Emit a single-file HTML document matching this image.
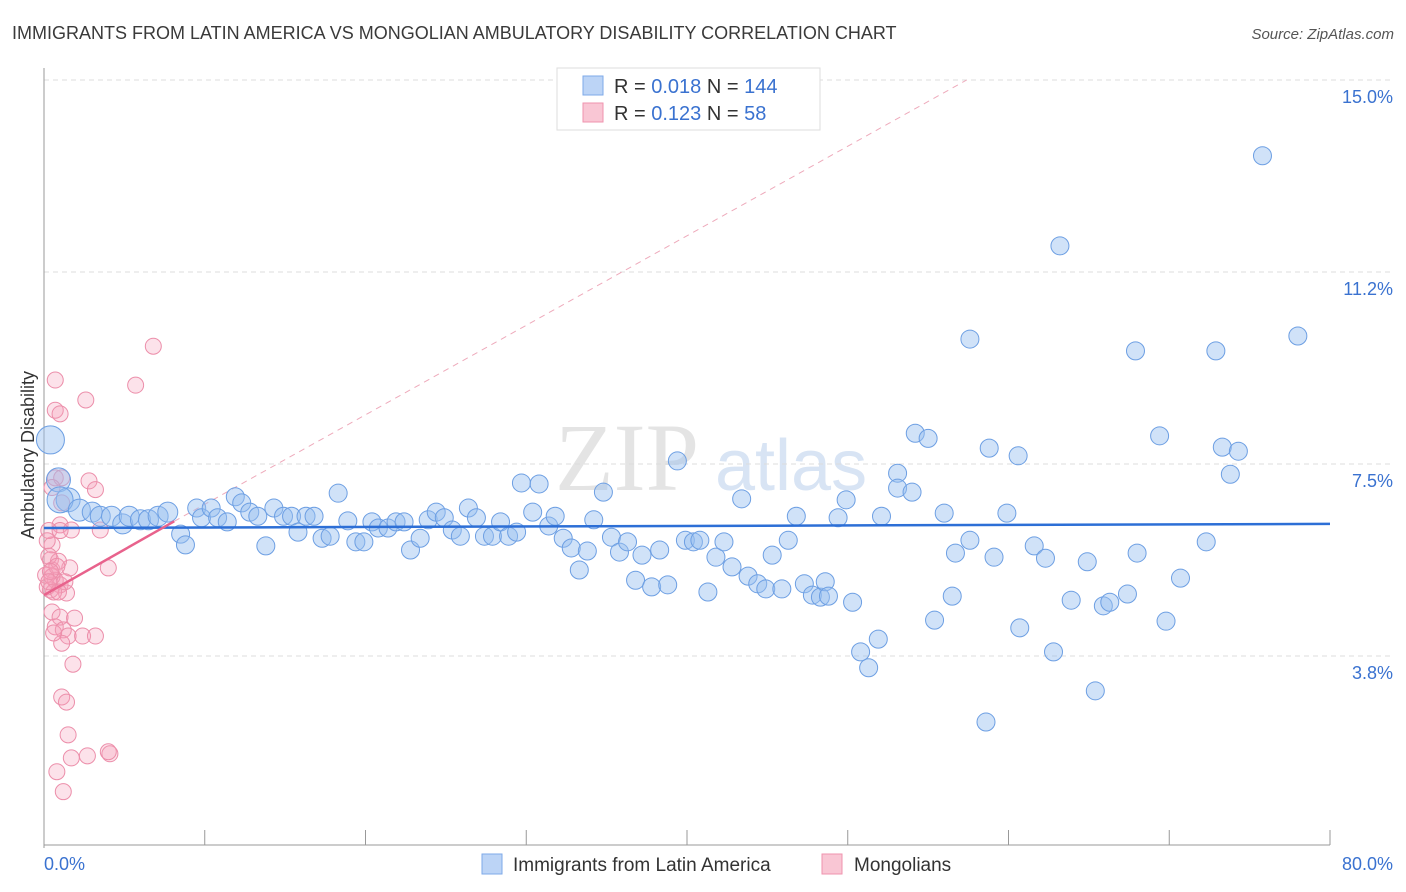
<!DOCTYPE html>
<html><head><meta charset="utf-8">
<style>
body{margin:0;background:#fff;font-family:"Liberation Sans",sans-serif;}
svg{display:block}
</style></head>
<body>
<svg id="chart" width="1406" height="892" xmlns="http://www.w3.org/2000/svg">
<text x="12" y="39" font-size="18" fill="#3a3a3a">IMMIGRANTS FROM LATIN AMERICA VS MONGOLIAN AMBULATORY DISABILITY CORRELATION CHART</text>
<text x="1394" y="39" font-size="15" fill="#555" font-style="italic" text-anchor="end">Source: ZipAtlas.com</text>
<text x="555" y="490" font-size="96" fill="#e4e4e4" font-family="Liberation Serif">ZIP</text>
<text x="715" y="490" font-size="72" fill="#d8e4f4">atlas</text>
<g id="grid"></g>
<g id="axes"></g>
<g id="marks"></g>
<text transform="translate(34,455) rotate(-90)" font-size="18" fill="#333" text-anchor="middle">Ambulatory Disability</text>
<g>
<rect x="557" y="68" width="263" height="62" fill="#fff" stroke="#ddd"/>
<rect x="583" y="76" width="20" height="19" fill="#bcd4f6" stroke="#7eaae8"/>
<rect x="583" y="103" width="20" height="19" fill="#f9c6d4" stroke="#ef93ae"/>
<text x="614" y="93" font-size="20" fill="#333">R = <tspan fill="#3a72d0">0.018</tspan>   N = <tspan fill="#3a72d0">144</tspan></text>
<text x="614" y="120" font-size="20" fill="#333">R =  <tspan fill="#3a72d0">0.123</tspan>   N =   <tspan fill="#3a72d0">58</tspan></text>
</g>
<g>
<rect x="482" y="854" width="20" height="20" fill="#bcd4f6" stroke="#7eaae8"/>
<text x="513" y="871" font-size="19" fill="#333">Immigrants from Latin America</text>
<rect x="822" y="854" width="20" height="20" fill="#f9c6d4" stroke="#ef93ae"/>
<text x="854" y="871" font-size="19" fill="#333">Mongolians</text>
</g>
</svg>
<script>
const yTicks=[3.75,7.5,11.25,15];
const yTickLabels=["3.8%","7.5%","11.2%","15.0%"];
const xTickVals=[0,10,20,30,40,50,60,70,80];
const xEndLabels=["0.0%","80.0%"];
const blueX=[0.4,0.9,1.5,1.0,2.2,3.0,3.5,4.2,4.9,5.3,6.0,6.5,7.1,7.7,8.5,8.8,9.5,9.8,10.4,10.8,11.4,11.9,12.3,12.8,13.3,13.8,14.3,14.9,15.4,15.8,16.3,16.8,17.3,17.8,18.3,18.9,19.4,19.9,20.4,20.8,21.4,21.9,22.4,22.8,23.4,23.9,24.4,24.9,25.4,25.9,26.4,26.9,27.4,27.9,28.4,28.9,29.4,29.7,30.4,30.8,31.4,31.8,32.3,32.8,33.3,33.8,34.2,34.8,35.3,35.8,36.3,36.8,37.2,37.8,38.3,38.8,39.4,39.9,40.4,40.8,41.3,41.8,42.3,42.8,43.4,43.8,44.4,44.9,45.3,45.9,46.3,46.8,47.3,47.8,48.3,48.6,48.8,49.4,49.9,50.3,50.8,51.3,51.9,52.1,53.1,53.1,54.0,54.2,55.0,55.4,56.0,56.5,56.7,57.6,57.6,58.6,58.8,59.1,59.9,60.6,60.7,61.6,62.3,62.8,63.2,63.9,64.9,65.4,65.9,66.3,67.4,67.9,68.0,69.4,69.8,70.7,72.3,72.9,73.3,73.8,74.3,75.8,78.0];
const blueY=[7.97,7.19,6.8,6.8,6.6,6.56,6.48,6.48,6.33,6.48,6.41,6.41,6.48,6.56,6.13,5.92,6.64,6.45,6.64,6.45,6.37,6.86,6.74,6.56,6.48,5.9,6.64,6.48,6.48,6.17,6.48,6.48,6.05,6.09,6.93,6.39,5.98,5.98,6.37,6.25,6.25,6.37,6.37,5.82,6.05,6.41,6.56,6.45,6.21,6.09,6.64,6.45,6.09,6.09,6.37,6.09,6.17,7.13,6.56,7.11,6.29,6.48,6.05,5.86,5.43,5.8,6.41,6.95,6.07,5.78,5.98,5.23,5.72,5.1,5.82,5.14,7.56,6.01,5.98,6.01,5.0,5.68,5.98,5.49,6.82,5.31,5.16,5.06,5.72,5.06,6.01,6.48,5.16,4.94,4.9,5.2,4.92,6.45,6.8,4.8,3.83,3.52,4.08,6.48,7.32,7.03,6.95,8.1,8.0,4.45,6.54,4.92,5.76,9.94,6.01,2.46,7.81,5.68,6.54,7.66,4.3,5.9,5.66,3.83,11.76,4.84,5.59,3.07,4.73,4.8,4.96,9.71,5.76,8.05,4.43,5.27,5.98,9.71,7.83,7.3,7.75,13.52,10.0];
const blueR=[14,12,12,13,11,10,10,10,10,10,10,10,10,10,9,9,9,9,9,9,9];
const pinkX=[6.8,0.7,5.7,2.6,0.7,1.0,0.7,1.1,2.8,3.2,0.5,1.1,3.5,1.0,1.7,0.5,0.4,0.5,1.6,0.7,0.1,1.0,0.4,1.4,4.0,0.5,1.0,1.9,0.7,1.2,1.5,2.4,3.2,1.1,1.8,1.1,1.4,1.5,1.7,2.7,4.1,4.0,0.8,1.2,0.3,0.2,0.5,0.9,0.6,0.3,1.3,0.8,0.2,0.6,1.0,0.4,0.9,0.3];
const pinkY=[9.8,9.14,9.04,8.75,8.55,8.48,7.23,7.23,7.17,7.0,7.04,6.74,6.21,6.31,6.21,5.92,5.63,5.43,5.47,5.23,5.33,5.14,5.04,4.98,5.47,4.61,4.51,4.49,4.32,4.26,4.14,4.14,4.14,4.0,3.59,2.95,2.85,2.21,1.76,1.8,1.84,1.88,1.49,1.1,6.2,5.1,5.3,5.6,5.0,5.7,5.2,5.5,6.0,4.2,6.2,5.4,5.0,5.2];
const blueTrend=[6.25,6.33];
const pinkTrend=[4.94,6.38];
const pinkTrendX=[0,8.1];
const pinkDashEnd=[57.4,15];

const L=44,R=1330,T=80,B=848;
const NS="http://www.w3.org/2000/svg";
const xs=v=>L+(v/80)*(R-L);
const ys=v=>B-(v/15)*(B-T);
function mk(tag,attrs,parent){const e=document.createElementNS(NS,tag);for(const k in attrs)e.setAttribute(k,attrs[k]);parent.appendChild(e);return e;}
const grid=document.getElementById('grid'),axes=document.getElementById('axes'),marks=document.getElementById('marks');
yTicks.forEach((t,i)=>{
  const g=mk('line',{x1:L,x2:1394,y1:ys(t),y2:ys(t),stroke:'#ddd','stroke-dasharray':'5,4'},grid);
  
  
  const tx=mk('text',{x:1393,y:ys(t)+23,'font-size':18,fill:'#3a72d0','text-anchor':'end'},axes);
  tx.textContent=yTickLabels[i];
  
  
});
const ax=mk('line',{x1:L,x2:L,y1:68,y2:848,stroke:'#999'},axes);


const bx=mk('line',{x1:L,x2:R,y1:845,y2:845,stroke:'#999'},axes);


xTickVals.forEach(v=>{
  const t=mk('line',{x1:xs(v),x2:xs(v),y1:830,y2:845,stroke:'#999'},axes);
  
  
});
[[0,'start',xEndLabels[0]],[80,'end',xEndLabels[1]]].forEach(([v,a,s])=>{
  const t=mk('text',{x:v===0?44:1393,y:870,'font-size':18,fill:'#3a72d0','text-anchor':a},axes);
  t.textContent=s;
  
  
});
const dl=mk('line',{x1:xs(pinkTrendX[1]),y1:ys(pinkTrend[1]),x2:xs(pinkDashEnd[0]),y2:ys(pinkDashEnd[1]),stroke:'#eeaabb','stroke-dasharray':'6,5','stroke-width':1},marks);


pinkX.forEach((x,i)=>{
  const c=mk('circle',{cx:xs(x),cy:ys(pinkY[i]),r:8,fill:'rgba(246,160,185,0.3)',stroke:'#ec8eaa','stroke-width':1},marks);
  
  
});
blueX.forEach((x,i)=>{
  const c=mk('circle',{cx:xs(x),cy:ys(blueY[i]),r:blueR[i]||9,fill:'rgba(150,190,240,0.45)',stroke:'#6d9fe3','stroke-width':1},marks);
  
  
});
const bt=mk('line',{x1:xs(0),y1:ys(blueTrend[0]),x2:xs(80),y2:ys(blueTrend[1]),stroke:'#2d6fd6','stroke-width':2.5},marks);


const pt=mk('line',{x1:xs(pinkTrendX[0]),y1:ys(pinkTrend[0]),x2:xs(pinkTrendX[1]),y2:ys(pinkTrend[1]),stroke:'#e8628c','stroke-width':2.5},marks);


</script>
</body></html>
